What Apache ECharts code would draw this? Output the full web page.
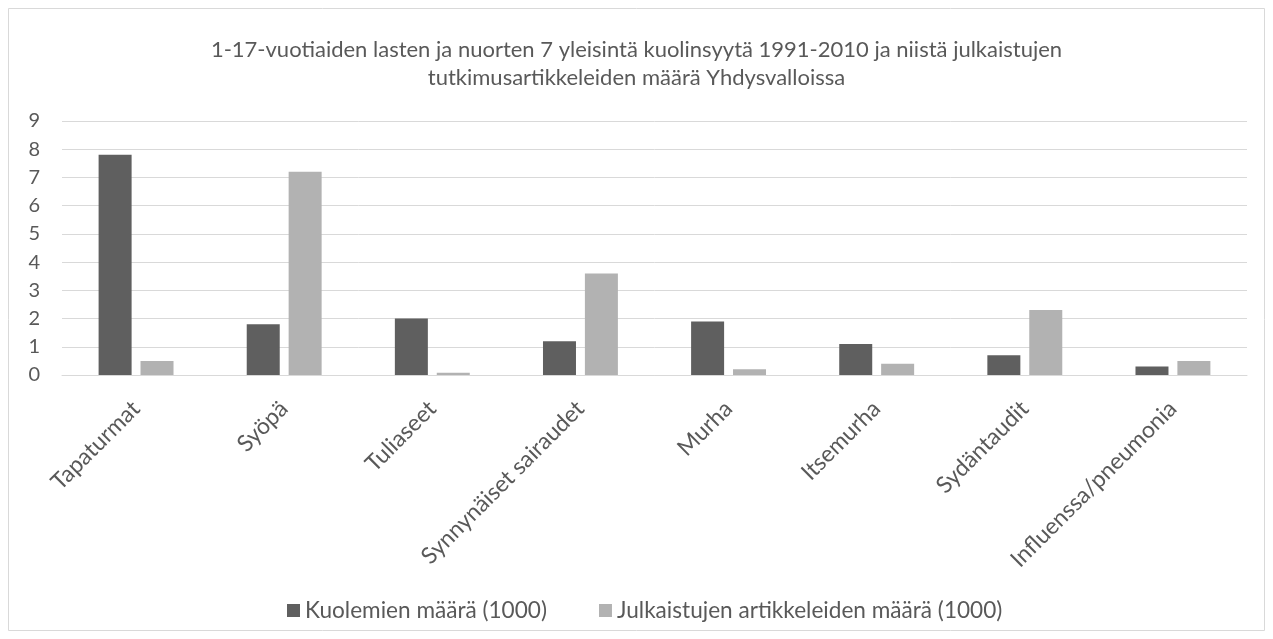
<!DOCTYPE html>
<html>
<head>
<meta charset="utf-8">
<script src="https://cdn.jsdelivr.net/npm/echarts@6/dist/echarts.min.js"></script>
<style>html,body{margin:0;padding:0;background:#fff}#c{width:1273px;height:639px}</style>
</head>
<body>
<div id="c"></div>
<script>
const categories = ["Tapaturmat","Syöpä","Tuliaseet","Synnynäiset sairaudet","Murha","Itsemurha","Sydäntaudit","Influenssa/pneumonia"];
const deaths = [7.8, 1.8, 2.0, 1.2, 1.9, 1.1, 0.7, 0.3];
const articles = [0.5, 7.2, 0.08, 3.6, 0.2, 0.4, 2.3, 0.5];
const seriesNames = ["Kuolemien määrä (1000)", "Julkaistujen artikkeleiden määrä (1000)"];
const titleText = "1-17-vuotiaiden lasten ja nuorten 7 yleisintä kuolinsyytä 1991-2010 ja niistä julkaistujen\ntutkimusartikkeleiden määrä Yhdysvalloissa";

const FONT = "Lato";
const TXT = "#595959";
const chart = echarts.init(document.getElementById('c'));
chart.setOption({
  backgroundColor: '#fff',
  animation: false,
  graphic: [{type:'rect', shape:{x:8.5,y:8.5,width:1256,height:622}, style:{fill:'none', stroke:'#d9d9d9', lineWidth:1}, silent:true}],
  title: {
    text: titleText, left: 'center', top: 31,
    textStyle: {fontFamily: FONT, fontSize: 22, fontWeight: 'normal', color: TXT, lineHeight: 28}
  },
  legend: {
    data: seriesNames, top: 594, left: 282, itemWidth: 13, itemHeight: 13, itemGap: 52,
    icon: 'rect',
    textStyle: {fontFamily: FONT, fontSize: 22.6, color: TXT}
  },
  grid: {left: 62, right: 26, top: 121, bottom: 264, containLabel: false},
  xAxis: {
    type: 'category', data: categories,
    axisLine: {lineStyle: {color: '#d9d9d9', width: 1}},
    axisTick: {show: false},
    axisLabel: {rotate: 45, interval: 0, fontFamily: FONT, fontSize: 23, color: TXT, margin: 30}
  },
  yAxis: {
    type: 'value', min: 0, max: 9, interval: 1,
    axisLine: {show: false}, axisTick: {show: false},
    splitLine: {lineStyle: {color: '#d9d9d9', width: 1}},
    axisLabel: {fontFamily: FONT, fontSize: 20, color: TXT, margin: 22}
  },
  series: [
    {name: seriesNames[0], type: 'bar', data: deaths, barWidth: 33, barGap: '27%', itemStyle: {color: '#5f5f5f'}},
    {name: seriesNames[1], type: 'bar', data: articles, barWidth: 33, itemStyle: {color: '#b2b2b2'}}
  ]
});
</script>
</body>
</html>
